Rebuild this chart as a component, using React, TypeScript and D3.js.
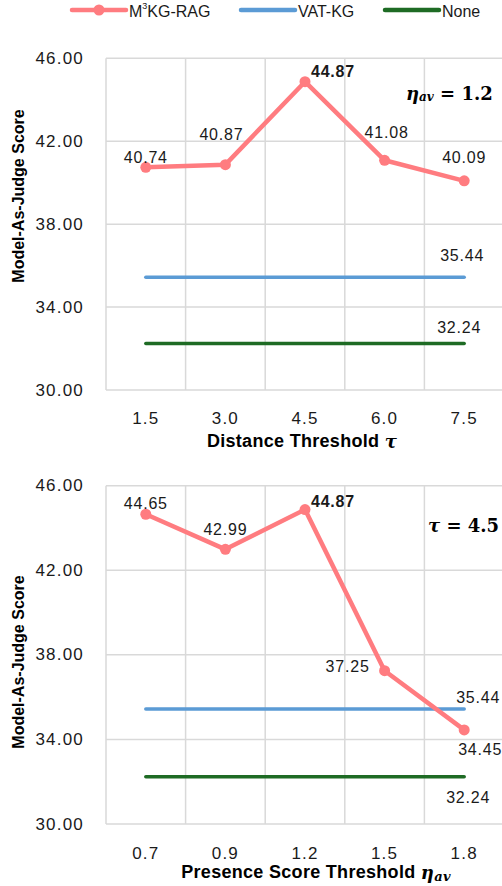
import * as React from 'react';
import * as d3 from 'd3';

// chart values
const tauLevels = ['1.5', '3.0', '4.5', '6.0', '7.5'];
const ragByTau = [40.74, 40.87, 44.87, 41.08, 40.09];
const etaLevels = ['0.7', '0.9', '1.2', '1.5', '1.8'];
const ragByEta = [44.65, 42.99, 44.87, 37.25, 34.45];
const vatKgScore = 35.44;
const noneScore = 32.24;
const yTicks = [30, 34, 38, 42, 46];
const bestIndex = 2;

const COLORS = {
    rag: '#FF7C80',
    vat: '#5B9BD5',
    none: '#1E6B24',
    grid: '#D9D9D9',
    text: '#1a1a1a'
};

const FONT = '"Liberation Sans", Arial, sans-serif';
const MATH = '"DejaVu Serif", serif';

const plotX = { left: 106, right: 504 };

type Offset = [number, number];

interface PanelProps {
    categories: string[],
    values: number[],
    top: number,
    bottom: number,
    labelOffsets: Offset[],
    vatOffset: Offset,
    noneOffset: Offset,
    tickY: number,
    titleY: number,
    titleX: number,
    yTitleY: number,
    xTitle: React.ReactNode,
    note: React.ReactNode,
    noteX: number,
    noteY: number
}

function Panel(p: PanelProps) {
    const x = d3.scaleBand<string>()
        .domain(p.categories)
        .range([plotX.left, plotX.right]);
    const y = d3.scaleLinear()
        .domain([30, 46])
        .range([p.bottom, p.top]);
    const cx = (c: string) => (x(c) || 0) + x.bandwidth() / 2;

    const line = d3.line<number>()
        .x((_, i) => cx(p.categories[i]))
        .y(d => y(d));

    const first = cx(p.categories[0]);
    const last = cx(p.categories[p.categories.length - 1]);
    const edges = p.categories.map(c => x(c) || 0).concat([plotX.right]);

    return <g>
        {yTicks.map(t =>
            <line key={'h' + t} x1={plotX.left} x2={plotX.right} y1={y(t)} y2={y(t)}
                stroke={COLORS.grid} strokeWidth={1.5} />)}
        {edges.map((e, i) =>
            <line key={'v' + i} x1={e} x2={e} y1={p.top} y2={p.bottom}
                stroke={COLORS.grid} strokeWidth={1.5} />)}

        {yTicks.map(t =>
            <text key={'yt' + t} x={84} y={y(t)} textAnchor="end" dominantBaseline="central"
                fontFamily={FONT} fontSize={17} letterSpacing={1.2} fill={COLORS.text}>
                {t.toFixed(2)}
            </text>)}
        {p.categories.map(c =>
            <text key={'xt' + c} x={cx(c)} y={p.tickY} textAnchor="middle" dominantBaseline="central"
                fontFamily={FONT} fontSize={17} letterSpacing={1.2} fill={COLORS.text}>
                {c}
            </text>)}

        <text transform={`translate(18,${p.yTitleY}) rotate(-90)`} textAnchor="middle"
            dominantBaseline="central" fontFamily={FONT} fontSize={16} fontWeight="bold" fill="#000">
            Model-As-Judge Score
        </text>
        <text x={p.titleX} y={p.titleY} textAnchor="middle" dominantBaseline="central"
            fontFamily={FONT} fontSize={18} letterSpacing={0.3} fontWeight="bold" fill="#000">
            {p.xTitle}
        </text>

        <line x1={first} x2={last} y1={y(vatKgScore)} y2={y(vatKgScore)}
            stroke={COLORS.vat} strokeWidth={3.5} strokeLinecap="round" />
        <line x1={first} x2={last} y1={y(noneScore)} y2={y(noneScore)}
            stroke={COLORS.none} strokeWidth={3.5} strokeLinecap="round" />

        <path d={line(p.values) || ''} fill="none" stroke={COLORS.rag} strokeWidth={4.5}
            strokeLinejoin="round" />
        {p.values.map((v, i) =>
            <circle key={'pt' + i} cx={cx(p.categories[i])} cy={y(v)} r={5.5} fill={COLORS.rag} />)}

        {p.values.map((v, i) =>
            <text key={'lb' + i} x={cx(p.categories[i]) + p.labelOffsets[i][0]}
                y={y(v) + p.labelOffsets[i][1]} textAnchor="middle" dominantBaseline="central"
                fontFamily={FONT} fontSize={16} letterSpacing={0.8}
                fontWeight={i === bestIndex ? 'bold' : 'normal'} fill={COLORS.text}>
                {v.toFixed(2)}
            </text>)}
        <text x={last + p.vatOffset[0]} y={y(vatKgScore) + p.vatOffset[1]} textAnchor="middle"
            dominantBaseline="central" fontFamily={FONT} fontSize={16} letterSpacing={0.8} fill={COLORS.text}>
            {vatKgScore.toFixed(2)}
        </text>
        <text x={last + p.noneOffset[0]} y={y(noneScore) + p.noneOffset[1]} textAnchor="middle"
            dominantBaseline="central" fontFamily={FONT} fontSize={16} letterSpacing={0.8} fill={COLORS.text}>
            {noneScore.toFixed(2)}
        </text>

        <text x={p.noteX} y={p.noteY} dominantBaseline="central" fontFamily={MATH}
            fontSize={18} fontWeight="bold" fill="#000">
            {p.note}
        </text>
    </g>
}

function Legend() {
    const items = [
        { name: 'rag', x: 72, color: COLORS.rag, marker: true },
        { name: 'vat', x: 241, color: COLORS.vat, marker: false },
        { name: 'none', x: 385, color: COLORS.none, marker: false }
    ];
    const labels: Record<string, React.ReactNode> = {
        rag: <>M<tspan dy={-5} fontSize={9}>3</tspan><tspan dy={5}>KG-RAG</tspan></>,
        vat: 'VAT-KG',
        none: 'None'
    };
    return <g>
        {items.map(it =>
            <g key={it.name}>
                <line x1={it.x} x2={it.x + 54} y1={10} y2={10} stroke={it.color}
                    strokeWidth={4.5} strokeLinecap="round" />
                {it.marker && <circle cx={it.x + 27} cy={10} r={5.5} fill={it.color} />}
                <text x={it.x + 57} y={11} dominantBaseline="central" fontFamily={FONT}
                    fontSize={16} fill={COLORS.text}>{labels[it.name]}</text>
            </g>)}
    </g>
}

export default function App() {
    return <svg width={502} height={886} style={{ position: 'absolute', left: 0, top: 0, background: '#fff' }}>
        <Legend />
        <Panel
            categories={tauLevels}
            values={ragByTau}
            top={58.3}
            bottom={390}
            labelOffsets={[[0, -10], [-4, -30], [28, -10], [2, -28], [0, -23]]}
            vatOffset={[-2, -22]}
            noneOffset={[-5, -16]}
            tickY={418}
            titleX={302}
            titleY={441}
            yTitleY={196}
            xTitle={<>Distance Threshold <tspan fontFamily={MATH} fontStyle="italic">τ</tspan></>}
            note={<><tspan fontStyle="italic">η</tspan><tspan fontStyle="italic" fontSize={12} dy={4}>av</tspan><tspan dy={-4}> = 1.2</tspan></>}
            noteX={406}
            noteY={93}
        />
        <Panel
            categories={etaLevels}
            values={ragByEta}
            top={485.7}
            bottom={824}
            labelOffsets={[[0, -11], [0, -20], [28, -8], [-37, -4], [16, 20]]}
            vatOffset={[14, -11]}
            noneOffset={[4, 21]}
            tickY={853}
            titleX={316}
            titleY={872}
            yTitleY={662}
            xTitle={<>Presence Score Threshold <tspan fontFamily={MATH} fontStyle="italic">η</tspan><tspan fontFamily={MATH} fontStyle="italic" fontSize={13} dy={4}>av</tspan></>}
            note={<><tspan fontStyle="italic">τ</tspan><tspan> = 4.5</tspan></>}
            noteX={428}
            noteY={525}
        />
    </svg>
}
